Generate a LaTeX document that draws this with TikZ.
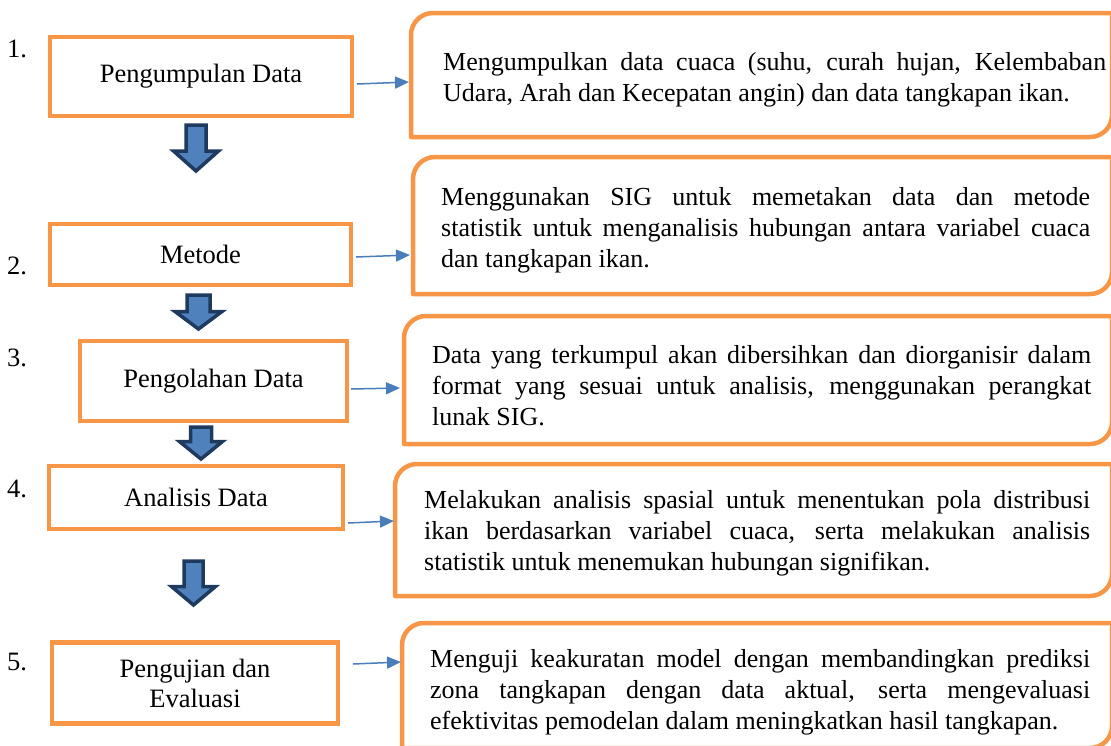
\documentclass[tikz,border=0pt]{standalone}
\usepackage{fontspec}
\setmainfont{Liberation Serif}
\usetikzlibrary{arrows.meta}
\definecolor{boxorange}{HTML}{F79646}
\definecolor{linkblue}{HTML}{4A7EBB}
\definecolor{flowfill}{HTML}{4F81BD}
\definecolor{flowedge}{HTML}{1F3A5F}

% down arrow between steps: centre x, top, head top, tip, shaft half width, head half width
\newcommand\flowarrow[6]{%
  \draw[flowarrow] (#1-#5,#2) -- (#1+#5,#2) -- (#1+#5,#3) -- (#1+#6,#3)
    -- (#1,#4) -- (#1-#6,#3) -- (#1-#5,#3) -- cycle;}
% description frame: rounded top-left and bottom-right corners
\newcommand\descframe[1]{%
  \draw[descline] (#1.south west) -- ([yshift=-22pt]#1.north west)
    arc[start angle=180,end angle=90,radius=22pt] -- (#1.north east)
    -- ([yshift=22pt]#1.south east)
    arc[start angle=0,end angle=-90,radius=22pt] -- cycle;}

\begin{document}
\begin{tikzpicture}[x=1pt,y=-1pt,
  stepbox/.style={draw=boxorange,line width=4.2pt,inner sep=0pt,outer sep=0pt,
    align=center,font=\fontsize{26.5}{30}\selectfont},
  numlabel/.style={inner sep=0pt,font=\fontsize{26.5}{30}\selectfont},
  descbox/.style={draw=none,inner sep=0pt,outer sep=0pt},
  desctext/.style={anchor=west,inner sep=0pt,align=left,
    font=\fontsize{26}{31}\selectfont},
  descline/.style={draw=boxorange,line width=4.5pt,line join=round},
  conn/.style={draw=linkblue,line width=1.5pt,
    -{Triangle[length=14pt,width=12pt]}},
  flowarrow/.style={draw=flowedge,fill=flowfill,line width=3.5pt,line join=miter}]

\useasboundingbox (0,0) rectangle (1111,745);
\clip (0,0) rectangle (1111,745);

% step boxes
\node[stepbox,minimum width=302pt,minimum height=79pt] (l1) at (201,76.5) {Pengumpulan Data};
\node[stepbox,minimum width=301pt,minimum height=61pt] (l2) at (200.5,254.5) {Metode};
\node[stepbox,minimum width=267pt,minimum height=80pt] (l3) at (213.5,381) {Pengolahan Data};
\node[stepbox,minimum width=294pt,minimum height=63pt] (l4) at (196,497.5) {Analisis Data};
\node[stepbox,minimum width=286pt,minimum height=81pt] (l5) at (195,683) {Pengujian dan\\Evaluasi};

% step numbers
\node[numlabel] (n1) at (17,49) {1.};
\node[numlabel] (n2) at (17,266) {2.};
\node[numlabel] (n3) at (17,358) {3.};
\node[numlabel] (n4) at (17,489) {4.};
\node[numlabel] (n5) at (17,662) {5.};

% flow arrows
\flowarrow{196}{125}{151}{171}{10}{22.5}
\flowarrow{198.5}{295}{311.5}{329}{11.5}{23.5}
\flowarrow{201}{427}{441.5}{459}{10.5}{21.5}
\flowarrow{193.5}{561}{586.5}{605}{9.5}{22}

% description frames
\node[descbox,minimum width=701pt,minimum height=124pt] (r1) at (761.5,75) {};
\node[descbox,minimum width=699pt,minimum height=137pt] (r2) at (762.5,225.5) {};
\node[descbox,minimum width=708pt,minimum height=128pt] (r3) at (758,380) {};
\node[descbox,minimum width=717pt,minimum height=132pt] (r4) at (753.5,530) {};
\node[descbox,minimum width=710pt,minimum height=125pt] (r5) at (757,685.5) {};
\descframe{r1}
\descframe{r2}
\descframe{r3}
\descframe{r4}
\descframe{r5}

% description texts
\node[desctext] (t1) at (443,79.5) {%
  \makebox[663pt][s]{Mengumpulkan data cuaca (suhu, curah hujan, Kelembaban}\\
  Udara, Arah dan Kecepatan angin) dan data tangkapan ikan.};
\node[desctext] (t2) at (441,230.5) {%
  \makebox[649pt][s]{Menggunakan SIG untuk memetakan data dan metode}\\
  \makebox[649pt][s]{statistik untuk menganalisis hubungan antara variabel cuaca}\\
  dan tangkapan ikan.};
\node[desctext] (t3) at (432,386) {%
  \makebox[659pt][s]{Data yang terkumpul akan dibersihkan dan diorganisir dalam}\\
  \makebox[659pt][s]{format yang sesuai untuk analisis, menggunakan perangkat}\\
  lunak SIG.};
\node[desctext] (t4) at (424,533.5) {%
  \makebox[666pt][s]{Melakukan analisis spasial untuk menentukan pola distribusi}\\
  \makebox[666pt][s]{ikan berdasarkan variabel cuaca, serta melakukan analisis}\\
  statistik untuk menemukan hubungan signifikan.};
\node[desctext] (t5) at (430,692.5) {%
  \makebox[660pt][s]{Menguji keakuratan model dengan membandingkan prediksi}\\
  \makebox[660pt][s]{zona tangkapan dengan data aktual, serta mengevaluasi}\\
  efektivitas pemodelan dalam meningkatkan hasil tangkapan.};

% links from steps to descriptions
\draw[conn] ([shift={(5,7.5)}]l1.east) -- ([shift={(-2,7)}]r1.west);
\draw[conn] ([shift={(5,2.5)}]l2.east) -- ([shift={(-3,29.5)}]r2.west);
\draw[conn] ([shift={(4,8)}]l3.east) -- ([shift={(-4,8)}]r3.west);
\draw[conn] ([shift={(5,25.5)}]l4.east) -- ([shift={(-1,-9)}]r4.west);
\draw[conn] ([shift={(15,-19)}]l5.east) -- ([shift={(-1,-23.5)}]r5.west);
\end{tikzpicture}
\end{document}
